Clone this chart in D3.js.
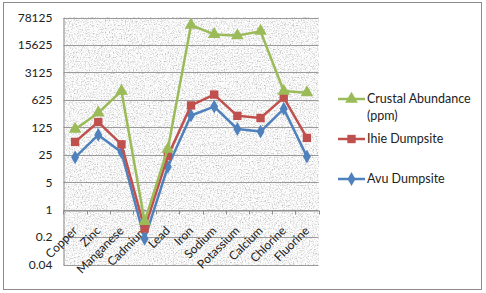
<!DOCTYPE html>
<html lang="en">
    <head>
        <meta charset="utf-8">
        <title>Heavy metals, log chart</title>
        <script type="text/javascript" src="https://d3js.org/d3.v7.min.js"></script>
        <style type="text/css">
            body { margin: 0; background: white; }
            text { font-family: Lato, "Open Sans", sans-serif; fill: #222; }
        </style>
    </head>
    <body>
        <script type="text/javascript">

        // Data
        var categories = ["Copper", "Zinc", "Manganese", "Cadmium", "Lead", "Iron",
                          "Sodium", "Potassium", "Calcium", "Chlorine", "Fluorine"];
        var crustal = [112, 290, 1050, 0.5, 35, 50000, 29000, 27000, 35000, 1050, 950];
        var ihie    = [53, 170, 46, 0.33, 23, 450, 850, 245, 215, 710, 67];
        var avu     = [21.5, 80, 29, 0.18, 12.3, 250, 420, 113, 97, 370, 22.4];
        var yTicks  = [0.04, 0.2, 1, 5, 25, 125, 625, 3125, 15625, 78125];

        var w = 486, h = 293;

        var series = [
            { name: ["Crustal Abundance", "(ppm)"], values: crustal, color: "#9BBB59", marker: d3.symbolTriangle, size: 70, ly: 99 },
            { name: ["Ihie Dumpsite"], values: ihie, color: "#C0504D", marker: d3.symbolSquare, size: 70, ly: 139 },
            { name: ["Avu Dumpsite"], values: avu, color: "#4F81BD", marker: d3.symbolDiamond, size: 55, ly: 179 }
        ];

        var x = d3.scaleBand().domain(categories).range([63.5, 318.5]);
        var y = d3.scaleLog().base(5).domain([0.04, 78125]).range([264.5, 17.5]);

        var svg = d3.select("body").append("svg")
                    .attr("width", w).attr("height", h);

        // granite texture
        var defs = svg.append("defs");
        var f = defs.append("filter").attr("id", "granite")
                    .attr("x", 0).attr("y", 0).attr("width", 1).attr("height", 1);
        f.append("feTurbulence").attr("type", "fractalNoise")
            .attr("baseFrequency", 0.75).attr("numOctaves", 2).attr("seed", 5).attr("result", "n");
        f.append("feColorMatrix").attr("in", "n").attr("type", "matrix")
            .attr("values", "1.2 0 0 0 0.32  1.2 0 0 0 0.32  1.2 0 0 0 0.32  0 0 0 0 1");

        // outer border
        svg.append("rect")
            .attr("x", 3.5).attr("y", 2.5).attr("width", 478).attr("height", 287)
            .attr("fill", "white").attr("stroke", "#8c8c8c").attr("stroke-width", 1);

        // plot area
        svg.append("rect")
            .attr("x", 63.5).attr("y", 17.5).attr("width", 255).attr("height", 247)
            .attr("filter", "url(#granite)");

        // gridlines
        svg.append("g").selectAll("line").data(yTicks).enter().append("line")
            .attr("x1", 63.5).attr("x2", 318.5)
            .attr("y1", function(d){ return Math.round(y(d)) + 0.5; })
            .attr("y2", function(d){ return Math.round(y(d)) + 0.5; })
            .attr("stroke", "#9a9a9a").attr("stroke-width", 1);

        // y axis
        var yAxis = d3.axisLeft(y).tickValues(yTicks).tickSize(0).tickPadding(11)
                      .tickFormat(function(d){ return String(d); });
        var gy = svg.append("g").attr("transform", "translate(63.5,0)").call(yAxis);
        gy.select(".domain").attr("stroke", "#8c8c8c");
        gy.selectAll("text").attr("font-size", "12px").attr("font-family", "Lato, sans-serif").attr("fill", "#222");

        // x axis, crossing at 1
        var y1 = Math.round(y(1)) + 0.5;
        var xAxis = d3.axisBottom(x).tickSize(0).tickFormat("");
        var gx = svg.append("g").attr("transform", "translate(0," + y1 + ")").call(xAxis);
        gx.select(".domain").attr("stroke", "#8c8c8c");
        gx.selectAll(".tick").remove();
        var bounds = categories.map(function(c){ return x(c); }).concat([x.range()[1]]);
        gx.selectAll("line.tk").data(bounds).enter().append("line")
            .attr("class", "tk")
            .attr("x1", function(d){ return Math.round(d) + 0.5; })
            .attr("x2", function(d){ return Math.round(d) + 0.5; })
            .attr("y1", 0).attr("y2", 4)
            .attr("stroke", "#8c8c8c");

        svg.append("g").selectAll("text").data(categories).enter().append("text")
            .attr("transform", function(d){
                return "translate(" + (x(d) + x.bandwidth()/2) + "," + (y1 + 18) + ") rotate(-45)";
            })
            .attr("text-anchor", "end")
            .attr("dy", "0.35em")
            .attr("font-size", "12px")
            .text(function(d){ return d; });

        // lines and markers
        var line = d3.line()
            .x(function(d, i){ return x(categories[i]) + x.bandwidth()/2; })
            .y(function(d){ return y(d); });

        series.slice().reverse().forEach(function(s){
            svg.append("path")
                .datum(s.values)
                .attr("fill", "none")
                .attr("stroke", s.color)
                .attr("stroke-width", 2.5)
                .attr("stroke-linejoin", "round")
                .attr("d", line);
            svg.append("g").selectAll("path").data(s.values).enter().append("path")
                .attr("d", d3.symbol().type(s.marker).size(s.size))
                .attr("fill", s.color)
                .attr("transform", function(d, i){
                    return "translate(" + (x(categories[i]) + x.bandwidth()/2) + "," + y(d) + ")";
                });
        });

        // legend
        var lg = svg.append("g");
        series.forEach(function(s){
            lg.append("line")
                .attr("x1", 338).attr("x2", 365).attr("y1", s.ly).attr("y2", s.ly)
                .attr("stroke", s.color).attr("stroke-width", 2.5);
            lg.append("path")
                .attr("d", d3.symbol().type(s.marker).size(s.size))
                .attr("fill", s.color)
                .attr("transform", "translate(351.5," + s.ly + ")");
            s.name.forEach(function(t, k){
                lg.append("text")
                    .attr("x", 367).attr("y", s.ly + k * 17)
                    .attr("dy", "0.35em")
                    .attr("font-size", "12.5px")
                    .text(t);
            });
        });

        </script>
    </body>
</html>
